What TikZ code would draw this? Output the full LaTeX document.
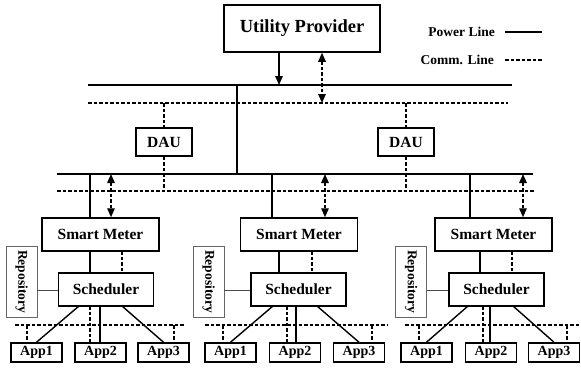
\documentclass[tikz,border=0pt]{standalone}
\usepackage{fontspec}
\setmainfont{Liberation Serif}
\usetikzlibrary{arrows.meta}
\begin{document}
\begin{tikzpicture}[x=1pt,y=-1pt,
  box/.style={draw,line width=1.5pt,inner sep=0pt,font=\bfseries\fontsize{15.5}{17}\selectfont},
  appbox/.style={box,minimum width=51,minimum height=19,font=\bfseries\fontsize{14}{15}\selectfont},
  smbox/.style={box,minimum width=117,minimum height=33},
  schbox/.style={box,minimum width=95,minimum height=33},
  repobox/.style={draw=black!60,line width=0.8pt,inner sep=0pt,minimum width=31,minimum height=71},
  pline/.style={line width=1.4pt},
  cline/.style={line width=1.4pt,dash pattern=on 3.5pt off 2pt},
  tip/.style={-{Triangle[length=9pt,width=7.5pt]}},
  dtip/.style={{Triangle[length=9pt,width=7.5pt]}-{Triangle[length=9pt,width=7.5pt]}},
  link/.style={line width=0.8pt,draw=black!70},
  legend/.style={inner sep=0pt,anchor=east,font=\bfseries\fontsize{13.5}{15}\selectfont}
]
\useasboundingbox (0,0) rectangle (581,375);

% utility and legend
\node[box,minimum width=156,minimum height=47,font=\bfseries\fontsize{18.5}{20}\selectfont] (up) at (302,28.5) {Utility Provider};
\node[legend] (lp) at (495,32) {Power Line};
\node[legend] (lc) at (494,60) {Comm. Line};
\coordinate (lpa) at (505,32); \coordinate (lpb) at (542,32);
\coordinate (lca) at (505,60); \coordinate (lcb) at (542,60);
\draw[pline] (lpa) -- (lpb);
\draw[cline] (lca) -- (lcb);

% upper buses
\coordinate (pb1l) at (88,85);  \coordinate (pb1r) at (512,85);
\coordinate (cb1l) at (88,103); \coordinate (cb1r) at (508,103);
\draw[pline] (pb1l) -- (pb1r);
\draw[cline] (cb1l) -- (cb1r);
\coordinate (upp) at (279,85);
\coordinate (upc) at (322,103);
\draw[pline,tip] (up.south -| upp) -- (upp);
\draw[cline,dtip] (up.south -| upc) -- (upc);

% data aggregation units
\node[box,minimum width=56,minimum height=28] (dau1) at (164,142) {DAU};
\node[box,minimum width=56,minimum height=28] (dau2) at (406,142) {DAU};

% middle buses
\coordinate (pb2l) at (57,174);  \coordinate (pb2r) at (533,174);
\coordinate (cb2l) at (57,191);  \coordinate (cb2r) at (534,191);
\draw[pline] (pb2l) -- (pb2r);
\draw[cline] (cb2l) -- (cb2r);
\coordinate (feed) at (237,85);
\draw[pline] (feed) -- (feed |- pb2l);
\draw[cline] (dau1.north |- cb1l) -- (dau1.north);
\draw[cline] (dau1.south) -- (dau1.south |- cb2l);
\draw[cline] (dau2.north |- cb1l) -- (dau2.north);
\draw[cline] (dau2.south) -- (dau2.south |- cb2l);

% smart meters
\node[smbox] (sm1) at (100.5,234.5) {Smart Meter};
\node[smbox] (sm2) at (299,234.5) {Smart Meter};
\node[smbox] (sm3) at (493.5,234.5) {Smart Meter};
\coordinate (sp1) at (90,174);  \coordinate (sc1) at (111,174);
\coordinate (sp2) at (272,174); \coordinate (sc2) at (325,174);
\coordinate (sp3) at (470,174); \coordinate (sc3) at (523,174);
\draw[pline] (sp1) -- (sp1 |- sm1.north);
\draw[pline] (sp2) -- (sp2 |- sm2.north);
\draw[pline] (sp3) -- (sp3 |- sm3.north);
\draw[cline,dtip] (sc1) -- (sc1 |- sm1.north);
\draw[cline,dtip] (sc2) -- (sc2 |- sm2.north);
\draw[cline,dtip] (sc3) -- (sc3 |- sm3.north);

% schedulers
\node[schbox] (sch1) at (106,289.5) {Scheduler};
\node[schbox] (sch2) at (298.5,289.5) {Scheduler};
\node[schbox] (sch3) at (496.5,289.5) {Scheduler};
\coordinate (mp1) at (90,251);  \coordinate (mc1) at (122,251);
\coordinate (mp2) at (279,251); \coordinate (mc2) at (312,251);
\coordinate (mp3) at (480,251); \coordinate (mc3) at (512,251);
\draw[pline] (mp1) -- (mp1 |- sch1.north);
\draw[pline] (mp2) -- (mp2 |- sch2.north);
\draw[pline] (mp3) -- (mp3 |- sch3.north);
\draw[cline] (mc1) -- (mc1 |- sch1.north);
\draw[cline] (mc2) -- (mc2 |- sch2.north);
\draw[cline] (mc3) -- (mc3 |- sch3.north);

% repositories
\node[repobox] (rep1) at (21.5,281.5) {};
\node[repobox] (rep2) at (208.5,281.5) {};
\node[repobox] (rep3) at (411,281.5) {};
\foreach \r in {rep1,rep2,rep3}
  \node[rotate=-90,inner sep=0pt,font=\bfseries\fontsize{13.5}{15}\selectfont] at (\r) {Repository};
\coordinate (rl1) at (37,290); \coordinate (rl2) at (224,290); \coordinate (rl3) at (427,290);
\draw[link] (rl1) -- (rl1 -| sch1.west);
\draw[link] (rl2) -- (rl2 -| sch2.west);
\draw[link] (rl3) -- (rl3 -| sch3.west);

% appliance buses
\coordinate (ab1l) at (15,325);  \coordinate (ab1r) at (185,325);
\coordinate (ab2l) at (205,325); \coordinate (ab2r) at (387,325);
\coordinate (ab3l) at (405,325); \coordinate (ab3r) at (581,325);
\draw[cline] (ab1l) -- (ab1r);
\draw[cline] (ab2l) -- (ab2r);
\draw[cline] (ab3l) -- (ab3r);

% appliances
\node[appbox] (a11) at (36.5,352.5) {App1};
\node[appbox] (a12) at (100.5,352.5) {App2};
\node[appbox] (a13) at (163.5,352.5) {App3};
\node[appbox] (a21) at (230.5,352.5) {App1};
\node[appbox] (a22) at (295,352.5) {App2};
\node[appbox] (a23) at (359,352.5) {App3};
\node[appbox] (a31) at (426.5,352.5) {App1};
\node[appbox] (a32) at (491,352.5) {App2};
\node[appbox] (a33) at (554,352.5) {App3};

% scheduler to appliance links, cluster 1
\coordinate (q11) at (79,306); \coordinate (q12) at (90,306);
\coordinate (q13) at (100,306); \coordinate (q14) at (122,306);
\draw[pline] (q11) -- (a11.north);
\draw[cline] (q12) -- (q12 |- a12.north);
\draw[pline] (q13) -- (q13 |- a12.north);
\draw[pline] (q14) -- (a13.north);
\coordinate (d11) at (27,325); \coordinate (d13) at (174,325);
\draw[cline] (d11) -- (d11 |- a11.north);
\draw[cline] (d13) -- (d13 |- a13.north);

% cluster 2
\coordinate (q21) at (273,306); \coordinate (q22) at (287,306);
\coordinate (q23) at (296,306); \coordinate (q24) at (317,306);
\draw[pline] (q21) -- (a21.north);
\draw[cline] (q22) -- (q22 |- a22.north);
\draw[pline] (q23) -- (q23 |- a22.north);
\draw[pline] (q24) -- (a23.north);
\coordinate (d21) at (223,325); \coordinate (d23) at (372,325);
\draw[cline] (d21) -- (d21 |- a21.north);
\draw[cline] (d23) -- (d23 |- a23.north);

% cluster 3
\coordinate (q31) at (468,306); \coordinate (q32) at (483,306);
\coordinate (q33) at (490,306); \coordinate (q34) at (513,306);
\draw[pline] (q31) -- (a31.north);
\draw[cline] (q32) -- (q32 |- a32.north);
\draw[pline] (q33) -- (q33 |- a32.north);
\draw[pline] (q34) -- (a33.north);
\coordinate (d31) at (419,325); \coordinate (d33) at (567,325);
\draw[cline] (d31) -- (d31 |- a31.north);
\draw[cline] (d33) -- (d33 |- a33.north);
\end{tikzpicture}
\end{document}
